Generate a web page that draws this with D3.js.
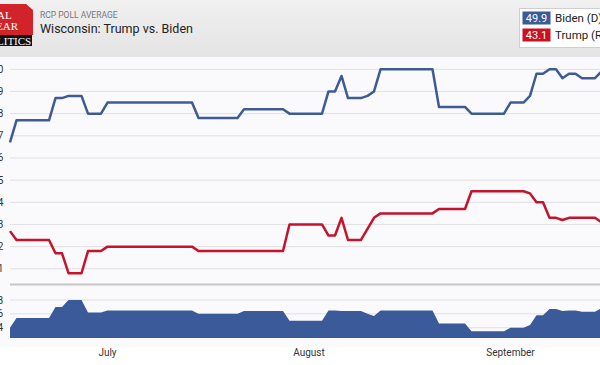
<!DOCTYPE html>
<html>
<head>
<meta charset="utf-8">
<script src="https://cdn.jsdelivr.net/npm/d3@7"></script>
<style>
  body { margin: 0; background: #fff; }
  svg { display: block; font-family: Roboto, "Liberation Sans", sans-serif; }
</style>
</head>
<body>
<svg width="600" height="365"></svg>
<script>
// poll dates (2020) where either average changes
const dates = [
  "06-16","06-17","06-22","06-23","06-24","06-25","06-27","06-28","06-30","07-01",
  "07-14","07-15","07-21","07-22","07-28","07-29","08-03","08-04","08-05","08-06",
  "08-07","08-09","08-10","08-11","08-12","08-20","08-21","08-25","08-26","08-31",
  "09-01","09-03","09-04","09-05","09-06","09-07","09-08","09-09","09-10","09-11",
  "09-12","09-14","09-15"
];
const biden = [
  46.7,47.7,47.7,48.7,48.7,48.8,48.8,48.0,48.0,48.5,
  48.5,47.8,47.8,48.2,48.2,48.0,48.0,49.0,49.0,49.7,
  48.7,48.7,48.8,49.0,50.0,50.0,48.3,48.3,48.0,48.0,
  48.5,48.5,48.8,49.8,49.8,50.0,50.0,49.6,49.8,49.8,
  49.6,49.6,49.9
];
const trump = [
  42.7,42.3,42.3,41.7,41.7,40.8,40.8,41.8,41.8,42.0,
  42.0,41.8,41.8,41.8,41.8,43.0,43.0,42.5,42.5,43.3,
  42.3,42.3,42.8,43.3,43.5,43.5,43.7,43.7,44.5,44.5,
  44.5,44.5,44.4,44.0,44.0,43.3,43.3,43.2,43.3,43.3,
  43.3,43.3,43.1
];
const mainTicks = [41, 42, 43, 44, 45, 46, 47, 48, 49, 50];
const spreadTicks = [4, 6, 8];
const months = [["2020-07-01", "July"], ["2020-08-01", "August"], ["2020-09-01", "September"]];
const legend = [
  { name: "Biden (D)", value: "49.9", color: "#3a5a98" },
  { name: "Trump (R)", value: "43.1", color: "#cc1024" }
];

const parse = d3.timeParse("%Y-%m-%d");
const rows = dates.map((d, i) => ({
  date: parse("2020-" + d),
  biden: biden[i],
  trump: trump[i],
  spread: +(biden[i] - trump[i]).toFixed(1)
}));

const svg = d3.select("svg");

// header
const defs = svg.append("defs");
const grad = defs.append("linearGradient").attr("id", "hdr").attr("x1", 0).attr("y1", 0).attr("x2", 0).attr("y2", 1);
grad.append("stop").attr("offset", "0%").attr("stop-color", "#f0f0f0");
grad.append("stop").attr("offset", "100%").attr("stop-color", "#e4e4e4");
svg.append("rect").attr("width", 600).attr("height", 57).attr("fill", "url(#hdr)");
svg.append("rect").attr("y", 57).attr("width", 600).attr("height", 290).attr("fill", "#fafafc");

// logo
const logo = svg.append("g").attr("font-family", "'Liberation Serif', 'DejaVu Serif', serif");
logo.append("path").attr("d", "M0,4 H26 L33,10 V35 H0 Z").attr("fill", "#d2232a");
logo.append("rect").attr("y", 35).attr("width", 32).attr("height", 11).attr("fill", "#111");
logo.append("text").attr("x", -3).attr("y", 19).attr("fill", "#fff").attr("font-size", 11).text("AL");
logo.append("text").attr("x", -4).attr("y", 30).attr("fill", "#fff").attr("font-size", 11).text("EAR");
logo.append("text").attr("x", -3).attr("y", 44.5).attr("fill", "#fff").attr("font-size", 11).text("LITICS");

svg.append("text").attr("x", 40).attr("y", 18).attr("font-size", 8.5).attr("fill", "#777").text("RCP POLL AVERAGE");
svg.append("text").attr("x", 40).attr("y", 33).attr("font-size", 12.5).attr("fill", "#222").text("Wisconsin: Trump vs. Biden");

// legend
const lg = svg.append("g");
lg.append("rect").attr("x", 519.5).attr("y", 8.5).attr("width", 100).attr("height", 39)
  .attr("fill", "#fff").attr("stroke", "#cfcfcf");
legend.forEach((d, i) => {
  const y0 = 11.5 + i * 17;
  lg.append("rect").attr("x", 522.5).attr("y", y0).attr("width", 28).attr("height", 13).attr("fill", d.color);
  lg.append("text").attr("x", 536.5).attr("y", y0 + 10.5).attr("text-anchor", "middle")
    .attr("font-size", 11).attr("fill", "#fff").text(d.value);
  lg.append("text").attr("x", 555).attr("y", y0 + 10.5).attr("font-size", 11.5).attr("fill", "#222").text(d.name);
});

// scales
const x = d3.scaleTime().domain([parse("2020-06-16"), parse("2020-09-16")]).range([10, 608]);
const yMain = d3.scaleLinear().domain([41, 50]).range([268.8, 69.3]);
const ySpread = d3.scaleLinear().domain([4, 8]).range([327.7, 300]);
const spreadBase = 338;

// main gridlines + labels
const gMain = svg.append("g");
gMain.selectAll("line.grid").data(mainTicks).enter().append("line")
  .attr("x1", 10).attr("x2", 600)
  .attr("y1", (d) => yMain(d)).attr("y2", (d) => yMain(d))
  .attr("stroke", "#e0e0e3").attr("stroke-width", 1);
gMain.selectAll("text").data(mainTicks).enter().append("text")
  .attr("x", 3.5).attr("y", (d) => yMain(d)).attr("dy", "0.35em")
  .attr("text-anchor", "end").attr("font-size", 10).attr("fill", "#333")
  .text((d) => d);

// separator
svg.append("line").attr("x1", 10).attr("x2", 600).attr("y1", 284.5).attr("y2", 284.5)
  .attr("stroke", "#c6c6c6").attr("stroke-width", 2);

// spread panel grid
const gLow = svg.append("g");
gLow.selectAll("line").data(spreadTicks).enter().append("line")
  .attr("x1", 10).attr("x2", 600)
  .attr("y1", (d) => ySpread(d)).attr("y2", (d) => ySpread(d))
  .attr("stroke", "#e0e0e3");
gLow.selectAll("text").data(spreadTicks).enter().append("text")
  .attr("x", 3).attr("y", (d) => ySpread(d)).attr("dy", "0.35em")
  .attr("text-anchor", "end").attr("font-size", 10).attr("fill", "#333")
  .text((d) => d);

// spread area
const area = d3.area()
  .x((d) => x(d.date))
  .y0(spreadBase)
  .y1((d) => ySpread(d.spread));
svg.append("path").datum(rows).attr("d", area).attr("fill", "#3b5a99");

// lines
const plot = svg.append("g");
[["biden", "#3f5b94"], ["trump", "#c4132b"]].forEach(([key, color]) => {
  const line = d3.line().x((d) => x(d.date)).y((d) => yMain(d[key]));
  plot.append("path").datum(rows).attr("d", line)
    .attr("fill", "none").attr("stroke", color)
    .attr("stroke-width", 2.5).attr("stroke-linejoin", "round");
});

// month labels
svg.selectAll("text.month").data(months).enter().append("text")
  .attr("class", "month")
  .attr("x", (d) => x(parse(d[0]))).attr("y", 356)
  .attr("text-anchor", "middle").attr("font-size", 10).attr("fill", "#333")
  .text((d) => d[1]);
</script>
</body>
</html>
